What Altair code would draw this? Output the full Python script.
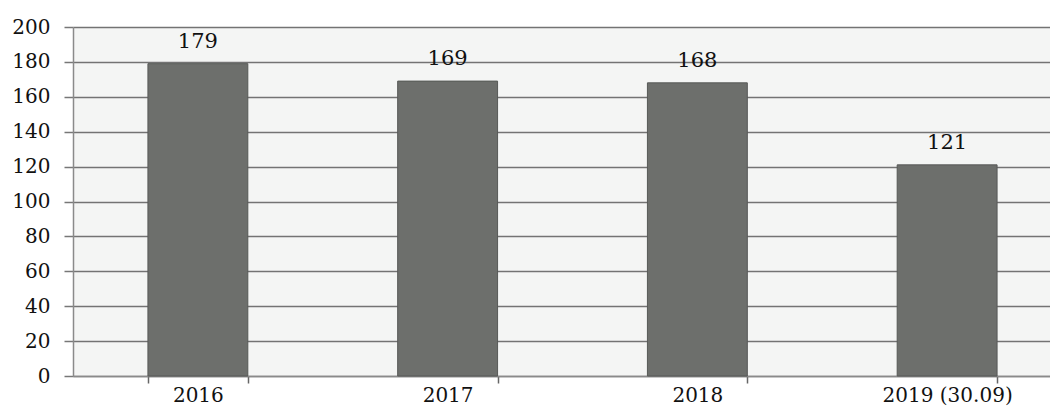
import altair as alt
import pandas as pd

categories = ["2016", "2017", "2018", "2019 (30.09)"]
values = [179, 169, 168, 121]

df = pd.DataFrame({"year": categories, "value": values})

FONT = "DejaVu Serif"

base = alt.Chart(df).encode(
    x=alt.X("year:N", sort=categories,
            scale=alt.Scale(paddingInner=0.6, paddingOuter=0.3, range=[0, 999]),
            axis=alt.Axis(title=None, labelAngle=0, tickBand="extent",
                          labelFont=FONT, labelFontSize=20, labelColor="#111",
                          domainColor="#8a8a8a", domainWidth=1.5,
                          tickColor="#666", tickSize=7, tickWidth=1.5,
                          labelPadding=2, grid=False)),
    y=alt.Y("value:Q",
            scale=alt.Scale(domain=[0, 200]),
            axis=alt.Axis(title=None, values=list(range(0, 201, 20)),
                          labelFont=FONT, labelFontSize=20, labelColor="#111",
                          domainColor="#8a8a8a", domainWidth=1.5,
                          tickColor="#777", tickSize=9, tickWidth=1.5,
                          labelPadding=14,
                          grid=True, gridColor="#737373", gridWidth=1.5)),
)

bars = base.mark_bar(color="#6d6f6c", stroke="#575957", strokeWidth=1)
labels = base.mark_text(baseline="bottom", dy=-12, font=FONT, fontSize=21,
                        color="#111").encode(text="value:Q")

chart = (bars + labels).properties(
    width=977, height=349,
    autosize=alt.AutoSizeParams(type="none"),
    padding={"left": 65, "top": 19, "right": 0, "bottom": 32},
).configure_view(fill="#f4f5f4", stroke=None)

chart.save("out.html", embed_options={"renderer": "svg", "actions": False})
